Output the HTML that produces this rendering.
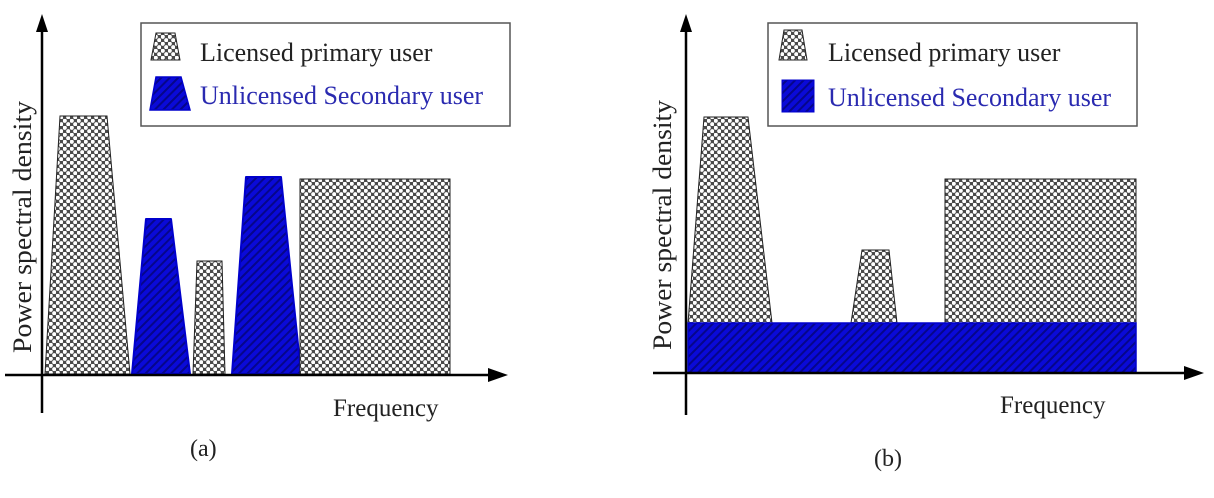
<!DOCTYPE html>
<html><head><meta charset="utf-8"><style>
html,body{margin:0;padding:0;background:#fff;}
svg{display:block;}
text{font-family:"Liberation Serif",serif;}
</style></head><body>
<svg width="1214" height="498" viewBox="0 0 1214 498" xmlns="http://www.w3.org/2000/svg">
<defs>
<pattern id="dots" width="7" height="7" patternUnits="userSpaceOnUse">
<rect width="7" height="7" fill="#4a4a4a"/>
<circle cx="1.75" cy="1.75" r="2.1" fill="#fff"/>
<circle cx="5.25" cy="5.25" r="2.1" fill="#fff"/>
</pattern>
<pattern id="hatch" width="6" height="6" patternUnits="userSpaceOnUse" patternTransform="rotate(45)">
<rect width="6" height="6" fill="#0a0ad8"/>
<rect width="2" height="6" fill="#06068a"/>
</pattern>
</defs>

<!-- Panel (a) -->
<polygon points="60,116 107,116 130,374 45,374" fill="url(#dots)" stroke="#222" stroke-width="1"/>
<polygon points="146,219 171,219 190,374 132,374" fill="url(#hatch)" stroke="#0000cc" stroke-width="2" stroke-linejoin="round"/>
<polygon points="197,261 222,261 225,374 193,374" fill="url(#dots)" stroke="#222" stroke-width="1"/>
<polygon points="246,177 281,177 301,374 232,374" fill="url(#hatch)" stroke="#0000cc" stroke-width="2" stroke-linejoin="round"/>
<rect x="300" y="179" width="150" height="195" fill="url(#dots)" stroke="#222" stroke-width="1"/>
<line x1="42" y1="22" x2="42" y2="413" stroke="#000" stroke-width="2.5"/>
<polygon points="42,14 36,32 48,32" fill="#000"/>
<line x1="5" y1="375" x2="495" y2="375" stroke="#000" stroke-width="2.5"/>
<polygon points="508,375 488,368 488,382" fill="#000"/>
<rect x="141" y="23" width="369" height="103" fill="#fff" stroke="#555" stroke-width="1.5"/>
<polygon points="156,33 175,33 180,60 151,60" fill="url(#dots)" stroke="#222" stroke-width="1"/>
<polygon points="156,77 181,77 190,110 150,110" fill="url(#hatch)" stroke="#0000cc" stroke-width="1.5"/>
<text x="200" y="61" font-size="26" fill="#222">Licensed primary user</text>
<text x="200" y="104" font-size="26" fill="#2a2ab0">Unlicensed Secondary user</text>
<text x="333" y="416" font-size="25" fill="#222">Frequency</text>
<text x="190" y="456" font-size="24" fill="#222">(a)</text>
<text transform="translate(31,353) rotate(-90)" font-size="26" fill="#222" textLength="252" lengthAdjust="spacingAndGlyphs">Power spectral density</text>

<!-- Panel (b) -->
<polygon points="704,117 748,117 772,323 688,323" fill="url(#dots)" stroke="#222" stroke-width="1"/>
<polygon points="862,250 889,250 897,323 851,323" fill="url(#dots)" stroke="#222" stroke-width="1"/>
<rect x="945" y="179" width="191" height="144" fill="url(#dots)" stroke="#222" stroke-width="1"/>
<rect x="688" y="323" width="448" height="50" fill="url(#hatch)" stroke="#0000cc" stroke-width="1.5"/>
<line x1="686" y1="22" x2="686" y2="415" stroke="#000" stroke-width="2.5"/>
<polygon points="686,14 680,32 692,32" fill="#000"/>
<line x1="653" y1="373" x2="1190" y2="373" stroke="#000" stroke-width="2.5"/>
<polygon points="1204,373 1184,366 1184,380" fill="#000"/>
<rect x="768" y="23" width="369" height="103" fill="#fff" stroke="#555" stroke-width="1.5"/>
<polygon points="784,30 802,30 807,60 779,60" fill="url(#dots)" stroke="#222" stroke-width="1"/>
<rect x="782" y="80" width="32" height="32" fill="url(#hatch)" stroke="#0000cc" stroke-width="1"/>
<text x="828" y="61" font-size="26" fill="#222">Licensed primary user</text>
<text x="828" y="106" font-size="26" fill="#2a2ab0">Unlicensed Secondary user</text>
<text x="1000" y="413" font-size="25" fill="#222">Frequency</text>
<text x="874" y="466" font-size="24" fill="#222">(b)</text>
<text transform="translate(671,350) rotate(-90)" font-size="26" fill="#222" textLength="250" lengthAdjust="spacingAndGlyphs">Power spectral density</text>
</svg>
</body></html>
